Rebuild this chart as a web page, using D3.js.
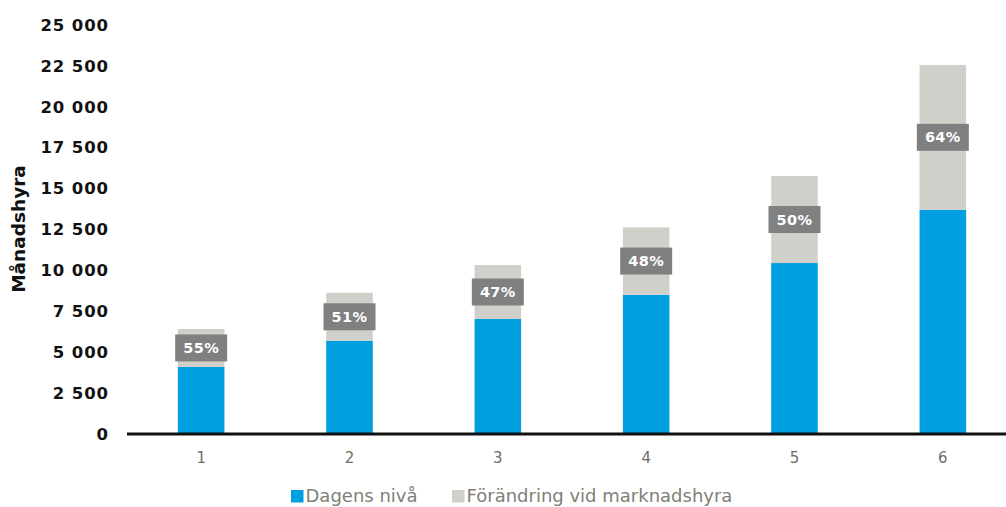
<!DOCTYPE html>
<html>
<head>
<meta charset="utf-8">
<script src="https://cdn.jsdelivr.net/npm/d3@7"></script>
<style>
  html, body { margin: 0; padding: 0; background: #fff; }
  svg { display: block; }
</style>
</head>
<body>
<svg id="chart" width="1006" height="507"></svg>
<script>
const categories = ["1", "2", "3", "4", "5", "6"];
const dagensNiva = [4100, 5700, 7030, 8510, 10450, 13710];
const forandring = [2320, 2930, 3300, 4120, 5320, 8850];
const percentLabels = ["55%", "51%", "47%", "48%", "50%", "64%"];
const yTicks = [0, 2500, 5000, 7500, 10000, 12500, 15000, 17500, 20000, 22500, 25000];
const seriesNames = ["Dagens nivå", "Förändring vid marknadshyra"];
const yTitle = "Månadshyra";

const colors = ["#009fdf", "#d0cfca"];
const svg = d3.select("#chart");

const x = d3.scaleBand().domain(categories).range([127, 1017])
  .paddingInner(0.686).paddingOuter(0.343);
const y = d3.scaleLinear().domain([0, 25000]).range([434, 25]);

const fmt = v => d3.format(",")(v).replace(/,/g, " ");

// y axis labels
const yAxis = d3.axisLeft(y).tickValues(yTicks).tickFormat(fmt).tickSize(0).tickPadding(0);
const gy = svg.append("g").attr("transform", "translate(109,0)").call(yAxis);
gy.select(".domain").remove();
gy.selectAll("text")
  .attr("font-family", "DejaVu Sans, sans-serif")
  .attr("font-weight", "bold")
  .attr("font-size", 16.5)
  .attr("letter-spacing", "0.9px")
  .attr("fill", "#111");

// y title
svg.append("text")
  .attr("transform", "translate(18,229) rotate(-90)")
  .attr("text-anchor", "middle")
  .attr("dominant-baseline", "central")
  .attr("font-family", "DejaVu Sans, sans-serif")
  .attr("font-weight", "bold")
  .attr("font-size", 18.5)
  .attr("fill", "#111")
  .text(yTitle);

// stacked data
const rows = categories.map((c, i) => ({ cat: c, a: dagensNiva[i], b: forandring[i], lbl: percentLabels[i] }));
const stack = d3.stack().keys(["a", "b"])(rows);

svg.append("g").selectAll("g").data(stack).join("g")
  .attr("fill", (d, i) => colors[i])
  .selectAll("rect").data(d => d).join("rect")
  .attr("x", d => x(d.data.cat))
  .attr("width", x.bandwidth())
  .attr("y", d => y(d[1]))
  .attr("height", d => y(d[0]) - y(d[1]));

// percent labels
const lg = svg.append("g").selectAll("g").data(stack[1]).join("g")
  .attr("transform", d => `translate(${x(d.data.cat) + x.bandwidth() / 2},${(y(d[0]) + y(d[1])) / 2})`);
lg.append("rect")
  .attr("x", -26).attr("y", -13.5).attr("width", 52).attr("height", 27)
  .attr("fill", "#808080");
lg.append("text")
  .attr("text-anchor", "middle")
  .attr("dominant-baseline", "central")
  .attr("font-family", "DejaVu Sans, sans-serif")
  .attr("font-weight", "bold")
  .attr("font-size", 14.5)
  .attr("letter-spacing", "0.4px")
  .attr("fill", "#fff")
  .text(d => d.data.lbl);

// x axis
const xAxis = d3.axisBottom(x).tickSize(0).tickPadding(0);
const gx = svg.append("g").attr("transform", "translate(0,434)").call(xAxis);
gx.select(".domain").remove();
gx.selectAll("text")
  .attr("dy", null)
  .attr("y", 24)
  .attr("dominant-baseline", "central")
  .attr("font-family", "DejaVu Sans, sans-serif")
  .attr("font-size", 15)
  .attr("fill", "#6e6e66");
svg.append("line")
  .attr("x1", 127).attr("x2", 1006)
  .attr("y1", 434).attr("y2", 434)
  .attr("stroke", "#111").attr("stroke-width", 3);

// legend
const legendX = [291, 452];
const leg = svg.append("g").selectAll("g").data(seriesNames).join("g")
  .attr("transform", (d, i) => `translate(${legendX[i]},490)`);
leg.append("rect").attr("width", 12.5).attr("height", 12.5).attr("fill", (d, i) => colors[i]);
leg.append("text")
  .attr("x", 14.5).attr("y", 5.5)
  .attr("dominant-baseline", "central")
  .attr("font-family", "DejaVu Sans, sans-serif")
  .attr("font-size", 18)
  .attr("fill", "#808076")
  .text(d => d);
</script>
</body>
</html>
